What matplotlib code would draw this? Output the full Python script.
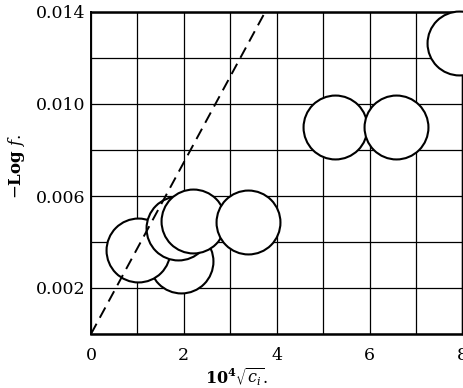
import matplotlib
matplotlib.use("Agg")
import matplotlib.pyplot as plt
from matplotlib.ticker import MultipleLocator, FixedLocator, FixedFormatter

# data
conc_x = [1.94, 1.01, 1.87, 2.20, 3.38, 5.26, 6.57, 7.93]
log_f = [0.00317, 0.00365, 0.00460, 0.00491, 0.00487, 0.00900, 0.00900, 0.01265]

limit_x = [0.0, 3.75]
limit_y = [0.0, 0.014]

x_ticks = [0, 2, 4, 6, 8]
y_ticks = [0.002, 0.006, 0.010, 0.014]
y_tick_labels = ["0.002", "0.006", "0.010", "0.014"]

plt.rcParams["font.family"] = "DejaVu Serif"
plt.rcParams["mathtext.fontset"] = "dejavuserif"

fig = plt.figure(figsize=(4.64, 3.88), dpi=100)
ax = fig.add_axes([91 / 464, 1 - 334 / 388, 371.5 / 464, 322 / 388])

ax.plot(limit_x, limit_y, color="black", lw=1.4, ls=(0, (6, 3.5)), zorder=5)

for x, y in zip(conc_x, log_f):
    ax.plot(x, y, "o", ms=46, mfc="white", mec="black", mew=1.5,
            zorder=3, clip_on=False)

ax.set_xlim(0, 8)
ax.set_ylim(0, 0.014)

ax.xaxis.set_major_locator(FixedLocator(x_ticks))
ax.xaxis.set_minor_locator(MultipleLocator(1))
ax.yaxis.set_major_locator(FixedLocator(y_ticks))
ax.yaxis.set_major_formatter(FixedFormatter(y_tick_labels))
ax.yaxis.set_minor_locator(MultipleLocator(0.002))

ax.grid(True, which="both", color="black", lw=0.9, zorder=1)
ax.set_axisbelow(True)
ax.tick_params(which="both", length=0, labelsize=12.5)
ax.tick_params(axis="x", pad=9)
ax.tick_params(axis="y", pad=4)

for side in ["top", "bottom"]:
    ax.spines[side].set_linewidth(1.8)
ax.spines["left"].set_linewidth(1.4)
ax.spines["right"].set_linewidth(1.0)

ax.set_xlabel(r"$\mathbf{10^4}\sqrt{c_i}.$", fontsize=11.5)
ax.xaxis.set_label_coords(0.39, -0.1)
ax.set_ylabel(r"$-\mathbf{Log}\ f.$", fontsize=12)
ax.yaxis.set_label_coords(-0.172, 0.52)

fig.savefig("out.png", dpi=100)
